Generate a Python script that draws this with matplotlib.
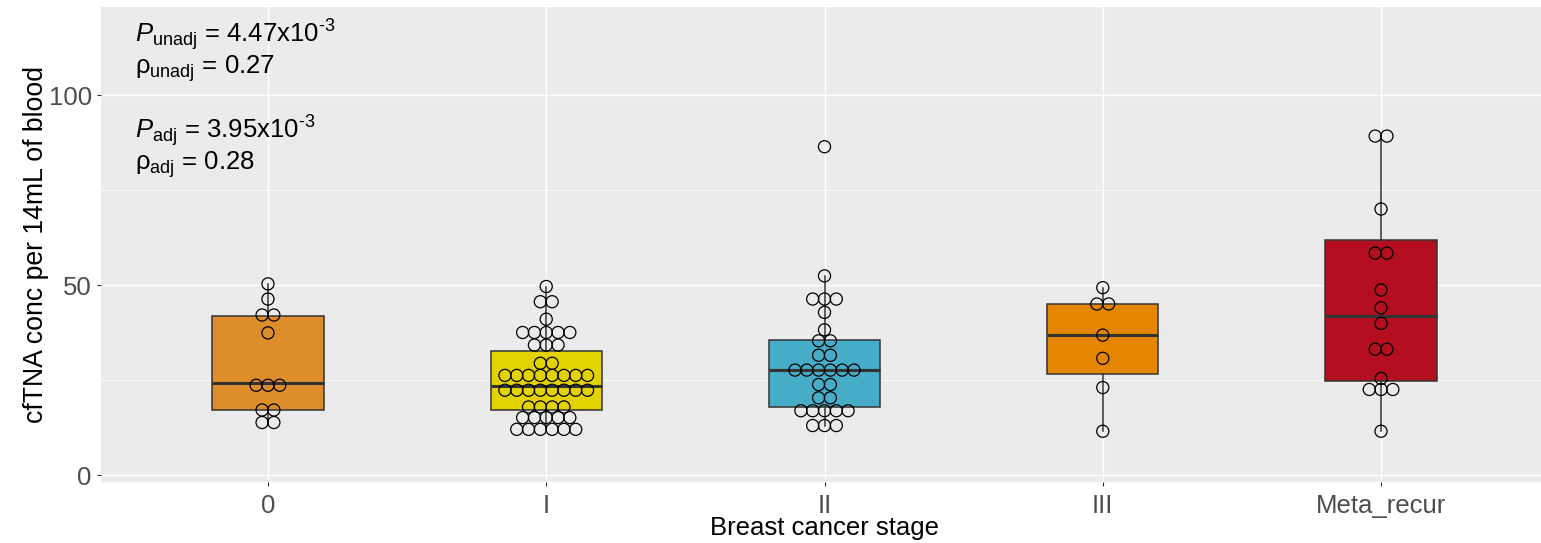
import numpy as np
import matplotlib
matplotlib.use("Agg")
import matplotlib.pyplot as plt

plt.rcParams['font.family'] = ['Liberation Sans', 'DejaVu Sans']
plt.rcParams['mathtext.fontset'] = 'custom'
plt.rcParams['mathtext.rm'] = 'Liberation Sans'
plt.rcParams['mathtext.it'] = 'Liberation Sans:italic'

# stages and fill colours (wesanderson FantasticFox1)
stages = ['0', 'I', 'II', 'III', 'Meta_recur']
colors = ['#DD8D29', '#E2D200', '#46ACC8', '#E58601', '#B40F20']

# cfTNA per sample, by stage
stage_0 = [50.4, 46.4, 42.2, 42.2, 37.5, 23.7, 23.7, 23.7, 17.2, 17.2, 13.9, 13.9]
stage_I = ([49.7] + [45.7] * 2 + [41.1] + [37.6] * 5 + [34.3] * 3 + [29.5] * 2 +
           [26.3] * 8 + [22.4] * 8 + [18.0] * 4 + [15.2] * 5 + [12.1] * 6)
stage_II = ([86.5, 52.5] + [46.4] * 3 + [42.9, 38.3] + [35.4] * 2 + [31.6] * 2 +
            [27.7] * 6 + [23.9] * 2 + [20.4] * 2 + [17.0] * 5 + [13.1] * 3)
stage_III = [49.4, 45.1, 45.1, 36.9, 30.8, 23.1, 11.6]
stage_meta = ([89.3] * 2 + [70.1] + [58.5] * 2 + [48.8, 44.1, 40.0] + [33.2] * 2 +
              [25.5] + [22.6] * 3 + [11.6])
groups = [stage_0, stage_I, stage_II, stage_III, stage_meta]

# box summaries
q1 = [17.2, 17.2, 18.0, 26.8, 24.9]
med = [24.4, 23.4, 27.7, 36.9, 42.0]
q3 = [42.0, 32.8, 35.6, 45.1, 62.0]
whislo = [13.9, 12.1, 13.1, 11.6, 11.6]
whishi = [50.4, 49.7, 52.5, 49.4, 89.3]

fig = plt.figure(figsize=(15.41, 5.43), dpi=100)
W, H = 1541, 543
ax = fig.add_axes([101 / W, 1 - 481.7 / H, (1548 - 101) / W, (481.7 - 7.3) / H])
ax.set_facecolor('#EBEBEB')
for s in ax.spines.values():
    s.set_visible(False)

pos = np.arange(1, len(stages) + 1)
ax.set_xlim(0.4, 5.6)
ax.set_ylim(-1.68, 123.2)

# ggplot-like grid
for y in [25, 75]:
    ax.axhline(y, color='white', lw=0.55, zorder=0)
for y in [0, 50, 100]:
    ax.axhline(y, color='white', lw=1.05, zorder=0)
for x in pos:
    ax.axvline(x, color='white', lw=1.05, zorder=0)

stats = [dict(q1=q1[i], med=med[i], q3=q3[i], whislo=whislo[i], whishi=whishi[i],
              fliers=[]) for i in range(len(stages))]
bp = ax.bxp(stats, positions=pos, widths=0.4, patch_artist=True, showcaps=False,
            boxprops=dict(edgecolor='#333333', linewidth=1.1),
            medianprops=dict(color='#333333', linewidth=2.2),
            whiskerprops=dict(color='#333333', linewidth=1.1),
            manage_ticks=False, zorder=2)
for patch, c in zip(bp['boxes'], colors):
    patch.set_facecolor(c)

# centred dot stacks
dot_step = 11.8 / 278.3
for x0, vals in zip(pos, groups):
    vals = np.array(vals)
    for v in np.unique(vals):
        n = np.sum(vals == v)
        xs = x0 + (np.arange(n) - (n - 1) / 2) * dot_step
        ax.scatter(xs, [v] * n, s=76, facecolors='none', edgecolors='black',
                   linewidths=0.9, zorder=3)

ax.set_xticks(pos)
ax.set_xticklabels(stages)
ax.set_yticks([0, 50, 100])
ax.tick_params(axis='both', colors='#333333', labelcolor='#4D4D4D', labelsize=18.5,
               length=3.2, width=0.8)
ax.tick_params(axis='x', pad=5.5)
ax.set_xlabel('Breast cancer stage', fontsize=18.5, color='black', labelpad=-1)
ax.set_ylabel('cfTNA conc per 14mL of blood', fontsize=19.2, color='black', labelpad=0)

# correlation stats
tx = 0.523
kw = dict(fontsize=18.5, ha='left', va='baseline', color='black')
ax.text(tx, 113.9, r'$P_{\rm unadj}$ = 4.47x10$^{\text{-3}}$', **kw)
ax.text(tx, 105.8, r'ρ$_{\rm unadj}$ = 0.27', **kw)
ax.text(tx, 88.6, r'$P_{\rm adj}$ = 3.95x10$^{\text{-3}}$', **kw)
ax.text(tx, 80.5, r'ρ$_{\rm adj}$ = 0.28', **kw)

fig.savefig('out.png', dpi=100)
